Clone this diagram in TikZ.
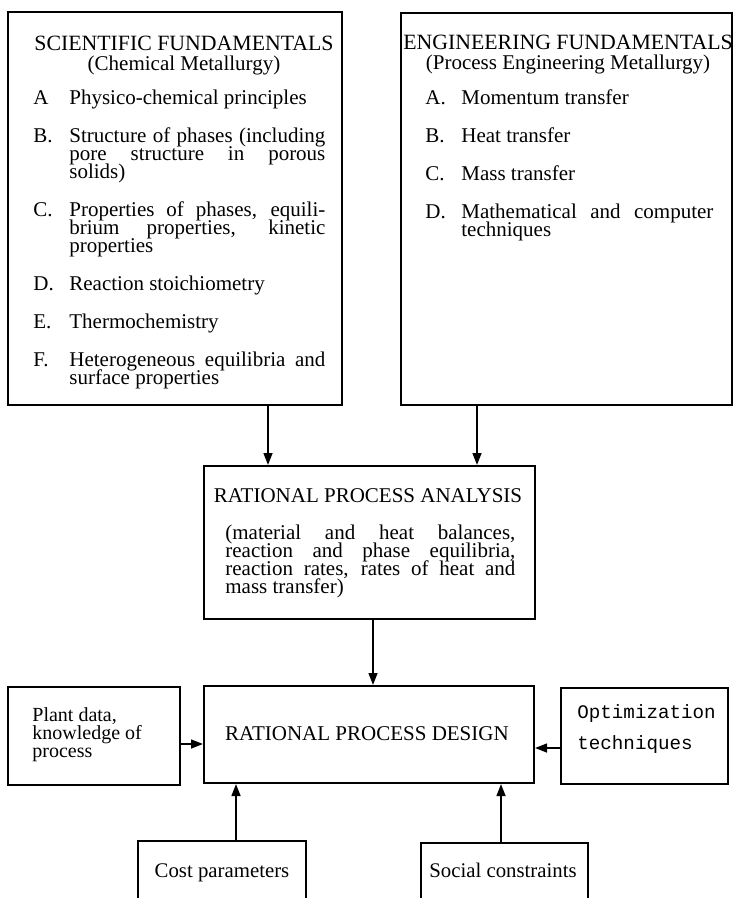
\documentclass[tikz,border=0pt]{standalone}
\usepackage{fontspec}
\setmainfont{Liberation Serif}
\setmonofont{Liberation Mono}
\usetikzlibrary{arrows.meta,positioning}

\newcommand{\boxfont}{\fontsize{10.5pt}{9pt}\selectfont\lineskiplimit=-10pt\relax}
\newcommand{\headfont}{\fontsize{10.5pt}{10pt}\selectfont\lineskiplimit=-10pt\relax}
\newcommand{\capsfont}{\fontsize{10.9pt}{10pt}\selectfont}
\newcommand{\plantfont}{\fontsize{10pt}{9pt}\selectfont\lineskiplimit=-10pt\relax}
\newcommand{\smallboxfont}{\fontsize{10.4pt}{9pt}\selectfont}
\newcommand{\optfont}{\ttfamily\fontsize{9.6pt}{15.5pt}\selectfont\lineskiplimit=-10pt\relax}
\newlength{\labind}\setlength{\labind}{18pt}
\newcommand{\fitem}[2]{\noindent\hangindent=\labind\hangafter=1
  \makebox[\labind][l]{#1}#2\par\vspace{10pt}}

\tikzset{
  panel/.style 2 args={rectangle,draw,line width=1pt,inner sep=0pt,
    minimum width=#1*0.5pt,minimum height=#2*0.5pt},
  txt/.style={inner sep=0pt,font=\boxfont},
  listtxt/.style={txt,anchor=north west,align=justify,text width=#1},
  arr/.style={-{Triangle[length=6pt,width=4.4pt]},line width=1pt},
}

\begin{document}
\begin{tikzpicture}[x=0.5pt,y=-0.5pt]
  \clip (0,0) rectangle (735,898);

  % frames
  \node[panel={334}{393}] (sci) at (175,208.5) {};
  \node[panel={331}{392}] (eng) at (566.5,209) {};
  \node[panel={331}{153}] (ana) at (369.5,542.5) {};
  \node[panel={330}{97}] (des) at (369,734.5) {};
  \node[panel={172}{98}] (plant) at (94,736) {};
  \node[panel={167}{96}] (opt) at (644.5,736) {};
  \node[panel={168}{100}] (cost) at (222,891) {};
  \node[panel={167}{100}] (social) at (504.5,893) {};

  % top boxes
  \node[txt,align=center,font=\headfont] (scihead) at (184,56)
    {{\capsfont SCIENTIFIC FUNDAMENTALS}\\(Chemical Metallurgy)};
  \node[listtxt=146pt] (sciitems) at (33,90) {%
    \fitem{A}{Physico-chemical principles}
    \fitem{B.}{Structure of phases (including\linebreak pore structure in porous\linebreak solids)}
    \fitem{C.}{Properties of phases, equili-\linebreak brium properties, kinetic\linebreak properties}
    \fitem{D.}{Reaction stoichiometry}
    \fitem{E.}{Thermochemistry}
    \fitem{F.}{Heterogeneous equilibria and\linebreak surface properties}};

  \node[txt,align=center,font=\headfont] (enghead) at (568,55)
    {{\capsfont ENGINEERING FUNDAMENTALS}\\(Process Engineering Metallurgy)};
  \node[listtxt=144pt] (engitems) at (425,89) {%
    \fitem{A.}{Momentum transfer}
    \fitem{B.}{Heat transfer}
    \fitem{C.}{Mass transfer}
    \fitem{D.}{Mathematical and computer\linebreak techniques}};

  % analysis and design
  \node[txt,anchor=base] (anatitle) at (368,502) {RATIONAL PROCESS ANALYSIS};
  \node[listtxt=145pt] (anabody) at (225,525) {\noindent(material and heat balances,\linebreak
    reaction and phase equilibria,\linebreak reaction rates, rates of heat and\linebreak
    mass transfer)};
  \node[txt,anchor=base] (destitle) at (367,740) {RATIONAL PROCESS DESIGN};

  \node[txt,anchor=north west,align=left,font=\plantfont] (planttxt) at (32,707)
    {Plant data,\\knowledge of\\process};
  \node[txt,anchor=north west,align=left,font=\optfont] (opttxt) at (577,704)
    {Optimization\\techniques};
  \node[txt,anchor=base,font=\smallboxfont] (costtxt) at (222,877)
    {Cost parameters};
  \node[txt,anchor=base,font=\smallboxfont] (socialtxt) at (503,877)
    {Social constraints};

  % connectors
  \coordinate (xl) at (268,0);
  \coordinate (xr) at (477,0);
  \coordinate (xc) at (373,0);
  \coordinate (xcost) at (236,0);
  \coordinate (xsoc) at (501,0);
  \coordinate (yplant) at (0,744);
  \coordinate (yopt) at (0,748);
  \draw[arr] (sci.south -| xl) -- (ana.north -| xl);
  \draw[arr] (eng.south -| xr) -- (ana.north -| xr);
  \draw[arr] (ana.south -| xc) -- (des.north -| xc);
  \draw[arr] (plant.east |- yplant) -- (des.west |- yplant);
  \draw[arr] (opt.west |- yopt) -- (des.east |- yopt);
  \draw[arr] (cost.north -| xcost) -- (des.south -| xcost);
  \draw[arr] (social.north -| xsoc) -- (des.south -| xsoc);
\end{tikzpicture}
\end{document}
